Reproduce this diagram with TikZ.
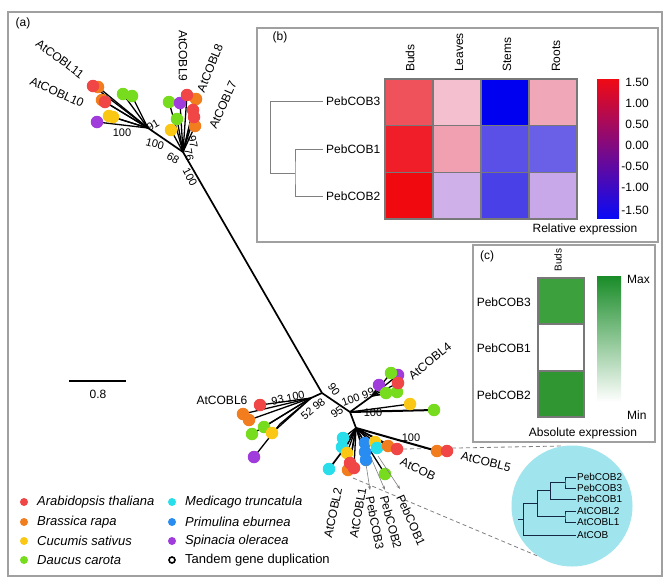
\documentclass[tikz,border=0pt]{standalone}
\usepackage{fontspec}
\setmainfont{Liberation Sans}
\usetikzlibrary{arrows.meta}
\definecolor{cR}{RGB}{240,70,70}
\definecolor{cO}{RGB}{242,125,30}
\definecolor{cY}{RGB}{250,200,20}
\definecolor{cG}{RGB}{120,220,30}
\definecolor{cC}{RGB}{40,222,235}
\definecolor{cB}{RGB}{40,140,240}
\definecolor{cP}{RGB}{160,60,220}
\definecolor{frameg}{RGB}{160,160,160}
\definecolor{cellg}{RGB}{120,120,120}
\definecolor{incirc}{RGB}{160,228,238}
\definecolor{itreec}{RGB}{20,40,70}
\begin{document}
\begin{tikzpicture}[x=1pt,y=-1pt,
  branch/.style={line width=1.7pt, black},
  leaf/.style={circle, inner sep=0pt, minimum size=12.5pt},
  ldot/.style={circle, inner sep=0pt, minimum size=8pt},
  boot/.style={font=\fontsize{11}{12}\selectfont, inner sep=0.5pt},
  lbl/.style={font=\fontsize{12}{14}\selectfont, inner sep=0pt},
  leg/.style={font=\fontsize{13}{15}\selectfont, inner sep=0pt, anchor=west},
  ilbl/.style={font=\fontsize{10}{12}\selectfont, inner sep=1pt, anchor=west},
  frame/.style={draw=frameg, line width=1.1pt},
  cell/.style={draw=cellg, line width=1.1pt},
  dendro/.style={draw=gray, line width=0.9pt},
  itree/.style={draw=itreec, line width=1pt},
  pointer/.style={draw=gray, line width=0.6pt, -{Stealth[length=4pt,width=3pt]}},
  zoomline/.style={draw=gray, line width=0.8pt, dash pattern=on 4pt off 3pt}
]
\useasboundingbox (0,0) rectangle (669,584);
\fill[white] (0,0) rectangle (669,584);
% outer frame
\draw[frame] (8,12) rectangle (662,576);
\node[lbl] (pa) at (23,23) {(a)};

% ---------------- panel (b)
\draw[frame, fill=white] (257,28) rectangle (658,242);
\node[lbl] (pb) at (280,37) {(b)};
\fill[fill={rgb,255:red,240;green,82;blue,92}] (385,79) rectangle (433,125.7);
\fill[fill={rgb,255:red,244;green,192;blue,208}] (433,79) rectangle (481,125.7);
\fill[fill={rgb,255:red,0;green,0;blue,240}] (481,79) rectangle (529,125.7);
\fill[fill={rgb,255:red,240;green,168;blue,184}] (529,79) rectangle (577,125.7);
\fill[fill={rgb,255:red,240;green,30;blue,40}] (385,125.7) rectangle (433,172.3);
\fill[fill={rgb,255:red,240;green,160;blue,176}] (433,125.7) rectangle (481,172.3);
\fill[fill={rgb,255:red,90;green,80;blue,232}] (481,125.7) rectangle (529,172.3);
\fill[fill={rgb,255:red,106;green,96;blue,232}] (529,125.7) rectangle (577,172.3);
\fill[fill={rgb,255:red,240;green,10;blue,16}] (385,172.3) rectangle (433,219);
\fill[fill={rgb,255:red,208;green,176;blue,232}] (433,172.3) rectangle (481,219);
\fill[fill={rgb,255:red,74;green,64;blue,232}] (481,172.3) rectangle (529,219);
\fill[fill={rgb,255:red,200;green,168;blue,232}] (529,172.3) rectangle (577,219);
\foreach \x in {433,481,529} \draw[cell] (\x,79) -- (\x,219);
\foreach \y in {125.7,172.3} \draw[cell] (385,\y) -- (577,\y);
\draw[cell] (385,79) rectangle (577,219);
\foreach \t/\x in {Buds/410, Leaves/459, Stems/507, Roots/556}
  \node[lbl, rotate=90, anchor=west] (col\t) at (\x,72) {\t};
\node[lbl, anchor=west] (h3) at (326,101) {PebCOB3};
\node[lbl, anchor=west] (h1) at (326,149) {PebCOB1};
\node[lbl, anchor=west] (h2) at (326,196) {PebCOB2};
\coordinate (hroot) at (270,173);
\coordinate (hsub) at (295,173);
\draw[dendro] ([xshift=-3pt]h3.west) -| (hroot) -- (hsub);
\draw[dendro] ([xshift=-3pt]h1.west) -| (hsub) |- ([xshift=-3pt]h2.west);
\shade[top color={rgb,255:red,240;green,10;blue,20}, middle color={rgb,255:red,236;green,214;blue,236}, bottom color={rgb,255:red,10;green,10;blue,245}] (597,79) rectangle (619,218);
\foreach \v/\y [count=\i] in {1.50/82, 1.00/103, 0.50/124, 0.00/145, -0.50/166, -1.00/187, -1.50/210}
  \node[lbl, anchor=east] (cb\i) at (649,\y) {\v};
\node[lbl] (relx) at (585,229) {Relative expression};

% ---------------- panel (c)
\draw[frame, fill=white] (473,245) rectangle (655,442);
\node[lbl] (pc) at (487,256) {(c)};
\node[lbl, rotate=90, font=\fontsize{10}{12}\selectfont] (cbuds) at (558,260) {Buds};
\fill[fill={rgb,255:red,60;green,160;blue,60}] (538,278) rectangle (584,324);
\fill[white] (538,324) rectangle (584,371);
\fill[fill={rgb,255:red,48;green,150;blue,50}] (538,371) rectangle (584,417);
\draw[cell] (538,278) rectangle (584,417);
\draw[cell] (538,324) -- (584,324) (538,371) -- (584,371);
\node[lbl, anchor=east] (c3) at (531,302) {PebCOB3};
\node[lbl, anchor=east] (c1) at (531,348) {PebCOB1};
\node[lbl, anchor=east] (c2) at (531,395) {PebCOB2};
\shade[top color={rgb,255:red,25;green,140;blue,40}, bottom color=white] (597,276) rectangle (621,402);
\node[lbl, anchor=west] (cmax) at (627,279) {Max};
\node[lbl, anchor=west] (cmin) at (627,415) {Min};
\node[lbl] (absx) at (583,433) {Absolute expression};

% ---------------- zoom lines and inset
\coordinate (z1a) at (403,449);
\coordinate (z1b) at (562,446);
\coordinate (z2a) at (353,478);
\coordinate (z2b) at (540,557);
\draw[zoomline] (z1a) -- (z1b);
\draw[zoomline] (z2a) -- (z2b);
\fill[incirc] (572,506) circle (60.5pt);
\node[ilbl] (i1) at (576,477) {PebCOB2};
\node[ilbl] (i2) at (576,488) {PebCOB3};
\node[ilbl] (i3) at (576,499) {PebCOB1};
\node[ilbl] (i4) at (576,511) {AtCOBL2};
\node[ilbl] (i5) at (576,522) {AtCOBL1};
\node[ilbl] (i6) at (576,535) {AtCOB};
\coordinate (a12) at (565,482.5);
\coordinate (a123) at (550,490.75);
\coordinate (a45) at (565,516.5);
\coordinate (a15) at (537,503.6);
\coordinate (aroot) at (523,519.3);
\draw[itree] (i1.west) -| (a12) |- (i2.west);
\draw[itree] (a12) -- (550,482.5) |- (i3.west);
\draw[itree] (i4.west) -| (a45) |- (i5.west);
\draw[itree] (a123) -- (537,490.75) |- (a45);
\draw[itree] (a15) -- (523,503.6) |- (i6.west);
\draw[itree] (518,519.3) -- (aroot);

% ---------------- tree: internal nodes
\coordinate (TL) at (148,128);
\coordinate (TR) at (183,152);
\coordinate (M) at (322,393);
\coordinate (Ln) at (311,398);
\coordinate (Lp) at (280,424);
\coordinate (R1) at (350,412);
\coordinate (R2) at (372,396);
\coordinate (Bn) at (356,428);
\coordinate (Bs) at (347,445);

% leaf positions
\coordinate (t1) at (98,87);  \coordinate (t2) at (93,86);
\coordinate (t3) at (102,100); \coordinate (t4) at (105,102);
\coordinate (t5) at (109,116); \coordinate (t6) at (113,117);
\coordinate (t7) at (97,122);
\coordinate (t8) at (123,94);  \coordinate (t9) at (132,96);
\coordinate (u1) at (169,102); \coordinate (u2) at (180,103);
\coordinate (u3) at (196,99);  \coordinate (u4) at (187,95);
\coordinate (u5) at (193,110); \coordinate (u6) at (195,126);
\coordinate (u7) at (194,117); \coordinate (u8) at (177,119);
\coordinate (u9) at (171,130);
\coordinate (l1) at (243,414); \coordinate (l2) at (249,420);
\coordinate (l3) at (260,405); \coordinate (l4) at (252,434);
\coordinate (l5) at (264,427); \coordinate (l6) at (272,433);
\coordinate (l7) at (254,457);
\coordinate (r1) at (398,375); \coordinate (r2) at (391,373);
\coordinate (r3) at (379,385); \coordinate (r4) at (386,393);
\coordinate (r5) at (397,392); \coordinate (r6) at (398,383);
\coordinate (r7) at (410,404); \coordinate (r8) at (434,410);
\coordinate (b1) at (329,469);
\coordinate (b2) at (343,438); \coordinate (b3) at (342,447);
\coordinate (b4) at (347,453); \coordinate (b5) at (348,470);
\coordinate (b6) at (350,463); \coordinate (b7) at (354,468);
\coordinate (b8) at (365,443); \coordinate (b9) at (365,452);
\coordinate (b10) at (366,460); \coordinate (b11) at (375,442);
\coordinate (b12) at (377,448); \coordinate (b13) at (388,446);
\coordinate (b14) at (397,449); \coordinate (b15) at (385,474);
\coordinate (b16) at (437,451); \coordinate (b17) at (447,451);

% branches
\draw[branch] (TR) -- (M);
\draw[branch] (TL) -- (TR);
\foreach \n in {t1,t2,t3,t4,t5,t6,t7,t8,t9} \draw[branch, line width=1.3pt] (\n) -- (TL);
\foreach \n in {u1,u2,u3,u4,u5,u6,u7,u8,u9} \draw[branch, line width=1.3pt] (\n) -- (TR);
\draw[branch] (M) -- (Ln);
\foreach \n in {l1,l2,l3,l4,l5,l6} \draw[branch, line width=1.3pt] (\n) -- (Ln);
\draw[branch, line width=1.3pt] (l7) -- (Lp) -- (Ln);
\draw[branch] (M) -- (R1);
\draw[branch] (R1) -- (R2);
\foreach \n in {r1,r2,r3,r4,r5,r6} \draw[branch, line width=1.3pt] (\n) -- (R2);
\draw[branch, line width=2pt] (R1) -- (r8);
\draw[branch, line width=1.3pt] (R1) -- (r7);
\draw[branch] (R1) -- (Bn);
\draw[branch, line width=2pt] (Bn) -- (b16);
\draw[branch] (b1) -- (Bs) -- (Bn);
\foreach \n in {b2,b3,b4,b5,b6,b7,b8,b9,b10,b11,b12,b13,b14,b15} \draw[branch, line width=1.3pt] (\n) -- (Bn);

% leaves (circles)
\foreach \n/\c in {t1/cO,t2/cR,t3/cO,t4/cR,t5/cY,t6/cY,t7/cP,t8/cG,t9/cG,
  u1/cG,u2/cP,u3/cO,u4/cR,u5/cR,u6/cO,u7/cR,u8/cG,u9/cY,
  l1/cO,l2/cO,l3/cR,l4/cG,l5/cG,l6/cY,l7/cP,
  r1/cP,r2/cG,r3/cP,r4/cG,r5/cG,r6/cR,r7/cY,r8/cG,
  b1/cC,b2/cC,b3/cC,b4/cY,b5/cO,b6/cR,b7/cR,b8/cB,b9/cB,b10/cB,b11/cY,b12/cC,b13/cO,b14/cR,b15/cG,b16/cO,b17/cR}
  \node[leaf, fill=\c] (n\n) at (\n) {};

% pointers to PebCOBs
\coordinate (p3a) at (366,464); \coordinate (p3b) at (370,490);
\coordinate (p2a) at (372,460); \coordinate (p2b) at (385,490);
\coordinate (p1a) at (378,456); \coordinate (p1b) at (400,489);
\draw[pointer] (p3a) -- (p3b);
\draw[pointer] (p2a) -- (p2b);
\draw[pointer] (p1a) -- (p1b);

% leaf labels
\node[lbl, rotate=-37] (L11) at (60,59) {AtCOBL11};
\node[lbl, rotate=-24] (L10) at (57,92) {AtCOBL10};
\node[lbl, rotate=-90] (L9) at (183,56) {AtCOBL9};
\node[lbl, rotate=68] (L8) at (210,68) {AtCOBL8};
\node[lbl, rotate=66] (L7) at (223,105) {AtCOBL7};
\node[lbl] (L6) at (222,400) {AtCOBL6};
\node[lbl, rotate=39] (L4) at (430,361) {AtCOBL4};
\node[lbl, rotate=-14] (L5) at (486,462) {AtCOBL5};
\node[lbl, rotate=-25] (L0) at (418,469) {AtCOB};
\node[lbl, rotate=78] (L2) at (333,513) {AtCOBL2};
\node[lbl, rotate=80] (L1) at (358,513) {AtCOBL1};
\node[lbl, rotate=-79] (P3) at (375,523) {PebCOB3};
\node[lbl, rotate=-75] (P2) at (391,522) {PebCOB2};
\node[lbl, rotate=-66] (P1) at (411,520) {PebCOB1};

% bootstrap values
\node[boot] (bs1) at (122,133) {100};
\node[boot, rotate=-15] (bs2) at (155,144) {100};
\node[boot, rotate=30] (bs3) at (153,125) {91};
\node[boot, rotate=-30] (bs4) at (173,158) {68};
\node[boot, rotate=-62] (bs5) at (190,177) {100};
\node[boot, rotate=-80] (bs6) at (193,142) {97};
\node[boot, rotate=-80] (bs7) at (189,155) {76};
\node[boot, rotate=-55] (bs8) at (334,389) {90};
\node[boot, rotate=12] (bs9) at (288,398) {93 100};
\node[boot, rotate=40] (bs10) at (313,409) {52 98};
\node[boot, rotate=35] (bs11) at (337,412) {95};
\node[boot, rotate=20] (bs12) at (358,397) {100 99};
\node[boot] (bs13) at (373,413) {100};
\node[boot] (bs14) at (411,438) {100};

% scale bar
\coordinate (s1) at (69,381);
\coordinate (s2) at (126,381);
\draw[branch] (s1) -- (s2);
\node[lbl] (s3) at (98,394) {0.8};

% legend
\node[ldot, fill=cR] (d1) at (24,502) {};
\node[leg] (g1) at (37,502) {\itshape Arabidopsis thaliana};
\node[ldot, fill=cO] (d2) at (24,522) {};
\node[leg] (g2) at (37,522) {\itshape Brassica rapa};
\node[ldot, fill=cY] (d3) at (24,541) {};
\node[leg] (g3) at (37,541) {\itshape Cucumis sativus};
\node[ldot, fill=cG] (d4) at (24,560) {};
\node[leg] (g4) at (37,560) {\itshape Daucus carota};
\node[ldot, fill=cC] (d5) at (172,502) {};
\node[leg] (g5) at (185,502) {\itshape Medicago truncatula};
\node[ldot, fill=cB] (d6) at (172,522) {};
\node[leg] (g6) at (185,522) {\itshape Primulina eburnea};
\node[ldot, fill=cP] (d7) at (172,541) {};
\node[leg] (g7) at (185,541) {\itshape Spinacia oleracea};
\node[circle, draw=black, line width=1.6pt, inner sep=0pt, minimum size=6pt] (d8) at (172,560) {};
\node[leg] (g8) at (185,560) {Tandem gene duplication};
\end{tikzpicture}
\end{document}
